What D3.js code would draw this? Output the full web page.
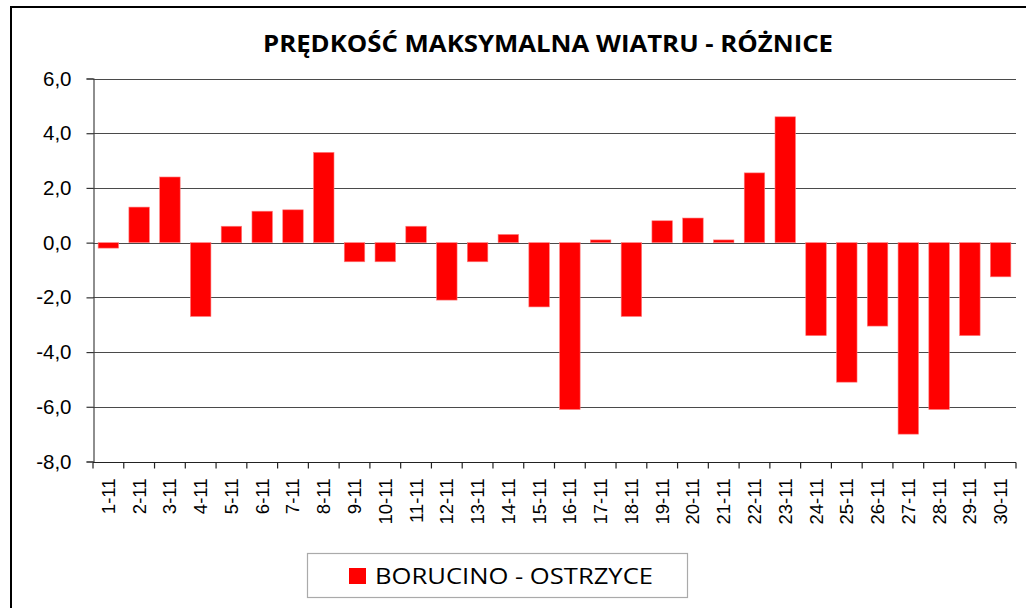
<!DOCTYPE html>
<html><head><meta charset="utf-8">
<script src="https://cdn.jsdelivr.net/npm/d3@7"></script>
<style>body{margin:0;background:#fff}svg{display:block}</style>
</head><body>
<svg id="c" width="1026" height="608"></svg>
<script>
const categories = ["1-11","2-11","3-11","4-11","5-11","6-11","7-11","8-11","9-11","10-11","11-11","12-11","13-11","14-11","15-11","16-11","17-11","18-11","19-11","20-11","21-11","22-11","23-11","24-11","25-11","26-11","27-11","28-11","29-11","30-11"];
const values = [-0.2,1.3,2.4,-2.7,0.6,1.15,1.2,3.3,-0.7,-0.7,0.6,-2.1,-0.7,0.3,-2.35,-6.1,0.1,-2.7,0.8,0.9,0.1,2.55,4.6,-3.4,-5.1,-3.05,-7.0,-6.1,-3.4,-1.25];
const yTicks = [-8,-6,-4,-2,0,2,4,6];
const seriesName = "BORUCINO - OSTRZYCE";
const title = "PRĘDKOŚĆ MAKSYMALNA WIATRU - RÓŻNICE";

const svg = d3.select("#c");
const L = 93, R = 1016, T = 78.5, B = 461.5;
const x = d3.scaleBand().domain(categories).range([L, R]).paddingInner(1/3).paddingOuter(1/6);
const y = d3.scaleLinear().domain([-8, 6]).range([B, T]);

// outer border
svg.append("path").attr("d", "M11,612 L11,7 L1030,7").attr("fill","none").attr("stroke","#000").attr("stroke-width",2);

// title
svg.append("text").attr("x", 548).attr("y", 52).attr("text-anchor","middle")
  .attr("font-family","Open Sans").attr("font-weight","bold").attr("font-size",23.5)
  .attr("textLength",570).attr("lengthAdjust","spacingAndGlyphs").text(title);

// gridlines
svg.append("g").selectAll("line").data(yTicks).join("line")
  .attr("x1", L).attr("x2", R).attr("y1", d=>Math.round(y(d))+0.5).attr("y2", d=>Math.round(y(d))+0.5)
  .attr("stroke", "#4a4a4a").attr("stroke-width",1.2);

// y axis
const yAxis = d3.axisLeft(y).tickValues(yTicks).tickSize(7).tickPadding(15)
  .tickFormat(d => d3.format(".1f")(d).replace(".", ",").replace("−","-"));
const gy = svg.append("g").attr("transform", `translate(${L+0.5},0)`).call(yAxis);
gy.select(".domain").attr("stroke","#444").attr("stroke-width",1.2);
gy.selectAll(".tick line").attr("stroke","#333").attr("stroke-width",1.2);
gy.selectAll(".tick text").attr("font-family","Liberation Sans, Arial").attr("font-size",20.5).attr("fill","#000");

// bars
svg.append("g").selectAll("rect").data(values).join("rect")
  .attr("x", (d,i)=>x(categories[i]))
  .attr("width", x.bandwidth())
  .attr("y", d=>y(Math.max(0,d)))
  .attr("height", d=>Math.abs(y(d)-y(0)))
  .attr("fill","#ff0000").attr("stroke","#ff8080").attr("stroke-width",0.6);

// x axis at bottom
const gx = svg.append("g").attr("transform", `translate(0,${Math.round(B)+0.5})`);
gx.append("line").attr("x1",L).attr("x2",R).attr("stroke","#222").attr("stroke-width",1.2);
const bounds = d3.range(categories.length+1).map(i => L + i*(R-L)/categories.length);
gx.selectAll("line.tk").data(bounds).join("line").attr("class","tk")
  .attr("x1", d=>d).attr("x2", d=>d).attr("y1",0).attr("y2",6).attr("stroke","#222").attr("stroke-width",1.2);
gx.selectAll("text").data(categories).join("text")
  .attr("transform", d=>`translate(${x(d)+x.bandwidth()/2+6.5},16) rotate(-90)`)
  .attr("text-anchor","end").attr("font-family","Liberation Sans, Arial").attr("font-size",18.5).text(d=>d);

// legend
const lg = svg.append("g");
lg.append("rect").attr("x",307.5).attr("y",553.5).attr("width",380).attr("height",44)
  .attr("fill","#fff").attr("stroke","#aaa").attr("stroke-width",1.2);
lg.append("rect").attr("x",349).attr("y",568).attr("width",17).attr("height",16).attr("fill","#ff0000");
lg.append("text").attr("x",375).attr("y",584).attr("font-family","Open Sans").attr("font-size",22.5)
  .attr("textLength",278).attr("lengthAdjust","spacingAndGlyphs").text(seriesName);
</script>
</body></html>
